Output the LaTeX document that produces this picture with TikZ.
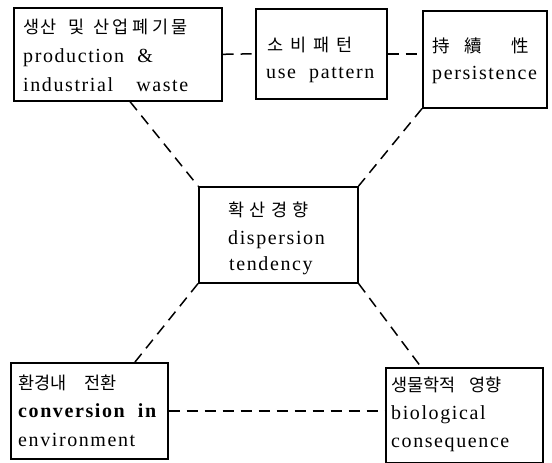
\documentclass[tikz,border=0pt]{standalone}
\usepackage{fontspec}
\setmainfont{Liberation Serif}[LetterSpace=8, WordSpace=2]
\newfontfamily\kr{Noto Sans CJK KR}
\tikzset{
  box/.style={draw, line width=1.6pt, inner sep=0pt, anchor=north west},
  conn/.style={line width=1.5pt, dash pattern=on 11pt off 7pt},
  txt/.style={inner sep=0pt, anchor=base west, font=\fontsize{20pt}{20pt}\selectfont},
  krt/.style={inner sep=0pt, anchor=base west, font=\fontsize{17.5pt}{17.5pt}\kr},
}
\begin{document}
\begin{tikzpicture}[x=1pt,y=-1pt]
\useasboundingbox (0,0) rectangle (552,463);
% boxes
\node[box, minimum width=208pt, minimum height=93pt] (b1) at (13,7) {};
\node[box, minimum width=131pt, minimum height=90pt] (b2) at (255,8) {};
\node[box, minimum width=124pt, minimum height=97pt] (b3) at (422,10) {};
\node[box, minimum width=159pt, minimum height=96pt] (c) at (198,186) {};
\node[box, minimum width=157pt, minimum height=96pt] (b4) at (10,362) {};
\node[box, minimum width=157pt, minimum height=95pt] (b5) at (385,367) {};
% texts box1
\node[krt] (b1k) at (23,33) {\addfontfeature{LetterSpace=5}생산\hspace{12pt}및\hspace{9pt}\addfontfeature{LetterSpace=20}산업폐기물};
\node[txt] (b1e1) at (23,62) {production \&};
\node[txt] (b1e2) at (23,91) {industrial\hspace{10pt} waste};
% box2
\node[krt] (b2k) at (267,51) {\addfontfeature{LetterSpace=40}소비패턴};
\node[txt] (b2e) at (266,78) {use pattern};
% box3
\node[krt] (b3k) at (432,52) {持\hspace{15pt}續\hspace{29pt}性};
\node[txt] (b3e) at (432,79) {persistence};
% center
\node[krt] (ck) at (228,216) {\addfontfeature{LetterSpace=31}확산경향};
\node[txt] (ce1) at (228,244) {dispersion};
\node[txt] (ce2) at (229,270) {tendency};
% box4
\node[krt] (b4k) at (18,389) {환경내\hspace{18pt}전환};
\node[txt] (b4e1) at (18,417) {\bfseries conversion in};
\node[txt] (b4e2) at (18,446) {environment};
% box5
\node[krt] (b5k) at (391,391) {생물학적\hspace{14pt}영향};
\node[txt] (b5e1) at (391,419) {biological};
\node[txt] (b5e2) at (391,447) {consequence};
% connectors
\draw[conn] (b1.east) -- (b2.west);
\draw[conn] (b2.east) -- (b3.west |- b2.east);
\draw[conn] ([xshift=117pt]b1.south west) -- (c.north west);
\draw[conn] (b3.south west) -- (c.north east);
\draw[conn] (c.south west) -- ([xshift=125pt]b4.north west);
\draw[conn] (c.south east) -- ([xshift=36pt]b5.north west);
\draw[conn] (b4.east) -- (b5.west |- b4.east);
\end{tikzpicture}
\end{document}
